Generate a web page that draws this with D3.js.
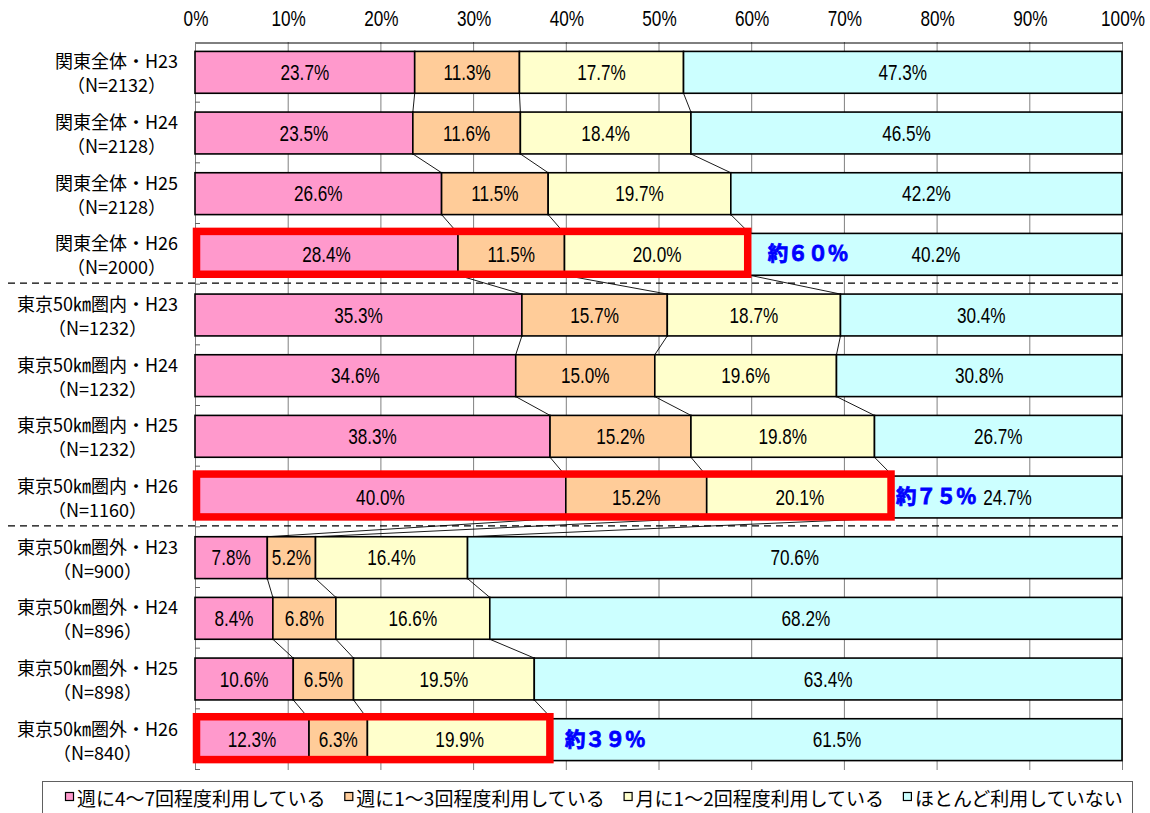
<!DOCTYPE html>
<html>
<head>
<meta charset="utf-8">
<script src="https://cdn.jsdelivr.net/npm/d3@7"></script>
<style>
  html, body { margin: 0; padding: 0; background: #fff; }
  svg { display: block; }
</style>
</head>
<body>
<svg id="chart" width="1150" height="813"></svg>
<script>
// ---------------- data ----------------
const categories = [
  "関東全体・H23", "関東全体・H24", "関東全体・H25", "関東全体・H26",
  "東京50㎞圏内・H23", "東京50㎞圏内・H24", "東京50㎞圏内・H25", "東京50㎞圏内・H26",
  "東京50㎞圏外・H23", "東京50㎞圏外・H24", "東京50㎞圏外・H25", "東京50㎞圏外・H26"
];
const sampleSizes = [
  "（N=2132）", "（N=2128）", "（N=2128）", "（N=2000）",
  "（N=1232）", "（N=1232）", "（N=1232）", "（N=1160）",
  "（N=900）", "（N=896）", "（N=898）", "（N=840）"
];
const seriesNames = [
  "週に4〜7回程度利用している",
  "週に1〜3回程度利用している",
  "月に1〜2回程度利用している",
  "ほとんど利用していない"
];
const weekly4to7 = [23.7, 23.5, 26.6, 28.4, 35.3, 34.6, 38.3, 40.0, 7.8, 8.4, 10.6, 12.3];
const weekly1to3 = [11.3, 11.6, 11.5, 11.5, 15.7, 15.0, 15.2, 15.2, 5.2, 6.8, 6.5, 6.3];
const monthly1to2 = [17.7, 18.4, 19.7, 20.0, 18.7, 19.6, 19.8, 20.1, 16.4, 16.6, 19.5, 19.9];
const rarely = [47.3, 46.5, 42.2, 40.2, 30.4, 30.8, 26.7, 24.7, 70.6, 68.2, 63.4, 61.5];
const tickValues = [0, 10, 20, 30, 40, 50, 60, 70, 80, 90, 100];
const tickLabels = ["0%", "10%", "20%", "30%", "40%", "50%", "60%", "70%", "80%", "90%", "100%"];
const highlightRows = ["関東全体・H26", "東京50㎞圏内・H26", "東京50㎞圏外・H26"];
const highlightLabels = ["約６０％", "約７５％", "約３９％"];
const groupBreaksAfter = ["関東全体・H26", "東京50㎞圏内・H26"];

// ---------------- styles ----------------
const colors = ["#FF99CC", "#FFCC99", "#FFFFCC", "#CCFFFF"];
const NUM_FONT = "'Liberation Sans', Arial, sans-serif";
const NUM_SCALE = 0.78;
const NUM_SIZE = 22;
const CJK_FONT = "'Noto Sans CJK JP', 'Noto Sans CJK SC', sans-serif";

const svg = d3.select("#chart");
const plot = { left: 195, right: 1122, top: 42, bottom: 770 };

const keys = ["s0", "s1", "s2", "s3"];
const rows = categories.map((c, i) => ({
  cat: c, n: sampleSizes[i],
  s0: weekly4to7[i], s1: weekly1to3[i], s2: monthly1to2[i], s3: rarely[i]
}));
const stacked = d3.stack().keys(keys).offset(d3.stackOffsetExpand)(rows);

const x = d3.scaleLinear().domain([0, 1]).range([plot.left, plot.right]);
const y = d3.scaleBand().domain(categories).range([plot.top, plot.bottom])
  .paddingInner(0.31).paddingOuter(0.155);
const bh = y.bandwidth();
const step = y.step();
const gx = d3.scaleLinear().domain([0, 100]).range([plot.left, plot.right]);

function narrowText(sel, fx, fy, size) {
  return sel.attr("transform", d => `translate(${fx(d)},${fy(d)}) scale(${NUM_SCALE},1)`)
    .attr("text-anchor", "middle").attr("dominant-baseline", "central")
    .attr("font-family", NUM_FONT).attr("font-size", size).attr("fill", "#000");
}

// gridlines
svg.append("g").selectAll("line").data(tickValues.slice(1)).join("line")
  .attr("x1", d => gx(d) + 0.5).attr("x2", d => gx(d) + 0.5)
  .attr("y1", plot.top).attr("y2", plot.bottom)
  .attr("stroke", "#808080").attr("stroke-width", 1);

// top axis (value) line via d3 axis, labels drawn narrow
const topAxis = d3.axisTop(gx).tickValues(tickValues).tickFormat("").tickSize(0);
const ta = svg.append("g").attr("transform", `translate(0,${plot.top + 0.5})`).call(topAxis);
ta.select(".domain").attr("stroke", "#000").attr("stroke-width", 1);
narrowText(svg.append("g").selectAll("text").data(tickValues).join("text"),
  d => gx(d) + 1, () => 18, NUM_SIZE).text((d, i) => tickLabels[i]);

// left axis line + ticks
svg.append("line").attr("x1", plot.left + 0.5).attr("x2", plot.left + 0.5)
  .attr("y1", plot.top).attr("y2", plot.bottom).attr("stroke", "#808080");
svg.append("g").selectAll("line").data(d3.range(1, categories.length + 1)).join("line")
  .attr("x1", plot.left).attr("x2", plot.left + 5)
  .attr("y1", i => plot.top + i * step - 0.5).attr("y2", i => plot.top + i * step - 0.5)
  .attr("stroke", "#606060");

// dashed separators
svg.append("g").selectAll("line").data(groupBreaksAfter).join("line")
  .attr("x1", 8).attr("x2", 1118)
  .attr("y1", d => y(d) + bh + (step - bh) / 2 - 1.5)
  .attr("y2", d => y(d) + bh + (step - bh) / 2 - 1.5)
  .attr("stroke", "#000").attr("stroke-width", 1.3).attr("stroke-dasharray", "7,5");

// series lines
const seriesLines = [];
for (let k = 0; k < 3; k++) {
  for (let i = 0; i < categories.length - 1; i++) {
    seriesLines.push({
      x1: x(stacked[k][i][1]), y1: y(categories[i]) + bh,
      x2: x(stacked[k][i + 1][1]), y2: y(categories[i + 1])
    });
  }
}
svg.append("g").selectAll("line").data(seriesLines).join("line")
  .attr("x1", d => d.x1).attr("y1", d => d.y1).attr("x2", d => d.x2).attr("y2", d => d.y2)
  .attr("stroke", "#000").attr("stroke-width", 0.9);

// bars
const layers = svg.append("g").selectAll("g").data(stacked).join("g")
  .attr("fill", (d, i) => colors[i]);
layers.selectAll("rect").data(d => d).join("rect")
  .attr("x", d => x(d[0])).attr("width", d => x(d[1]) - x(d[0]))
  .attr("y", d => y(d.data.cat)).attr("height", bh)
  .attr("stroke", "#000").attr("stroke-width", 1.6);

// red highlight boxes
svg.append("g").selectAll("rect").data(highlightRows).join("rect")
  .attr("x", plot.left + 1.5)
  .attr("width", d => x(stacked[2][categories.indexOf(d)][1]) - 2 - plot.left - 1.5)
  .attr("y", d => y(d) - 2).attr("height", bh + 1)
  .attr("fill", "none").attr("stroke", "#FF0000").attr("stroke-width", 7.5);

// value labels
const labelData = [];
stacked.forEach((layer, k) => layer.forEach((d, i) => {
  labelData.push({ cx: (x(d[0]) + x(d[1])) / 2, cy: y(categories[i]) + bh / 2, v: rows[i][keys[k]] });
}));
narrowText(svg.append("g").selectAll("text").data(labelData).join("text"),
  d => d.cx, d => d.cy, NUM_SIZE).text(d => d.v.toFixed(1) + "%");

// annotations
const annotDx = [18, 3, 13];
svg.append("g").selectAll("text").data(highlightRows).join("text")
  .attr("x", (d, i) => x(stacked[2][categories.indexOf(d)][1]) + annotDx[i])
  .attr("y", d => y(d) + bh / 2 - 2)
  .attr("dominant-baseline", "central")
  .attr("font-family", CJK_FONT).attr("font-weight", "bold").attr("font-size", 20.5)
  .attr("letter-spacing", -0.5)
  .attr("fill", "#0000FF").attr("stroke", "#0000FF").attr("stroke-width", 0.8)
  .text((d, i) => highlightLabels[i]);

// category labels
const cl = svg.append("g").selectAll("g").data(rows).join("g");
cl.each(function (d) {
  const g = d3.select(this);
  const cy = y(d.cat) + bh / 2;
  const t1 = g.append("text").attr("y", cy - 12).attr("dominant-baseline", "central")
    .attr("text-anchor", "middle")
    .attr("font-family", CJK_FONT).attr("font-size", 18).attr("fill", "#000").text(d.cat);
  const w = t1.node().getComputedTextLength();
  const cx = 178 - w / 2;
  t1.attr("x", cx);
  g.append("text").attr("x", cx).attr("y", cy + 12).attr("dominant-baseline", "central")
    .attr("text-anchor", "middle")
    .attr("font-family", CJK_FONT).attr("font-size", 18).attr("fill", "#000").text(d.n);
});

// legend
svg.append("rect").attr("x", 42.5).attr("y", 781.5).attr("width", 1090).attr("height", 40)
  .attr("fill", "#fff").attr("stroke", "#606060").attr("stroke-width", 1);
const lg = svg.append("g").selectAll("g").data(seriesNames).join("g")
  .attr("transform", (d, i) => `translate(${65 + i * 279.3},0)`);
lg.append("rect").attr("x", 0.5).attr("y", 792.5).attr("width", 8).attr("height", 8)
  .attr("fill", (d, i) => colors[i]).attr("stroke", "#000").attr("stroke-width", 1.2);
lg.append("text").attr("x", 12).attr("y", 797).attr("dominant-baseline", "central")
  .attr("font-family", CJK_FONT).attr("font-size", 19).attr("fill", "#000").text(d => d);
</script>
</body>
</html>
